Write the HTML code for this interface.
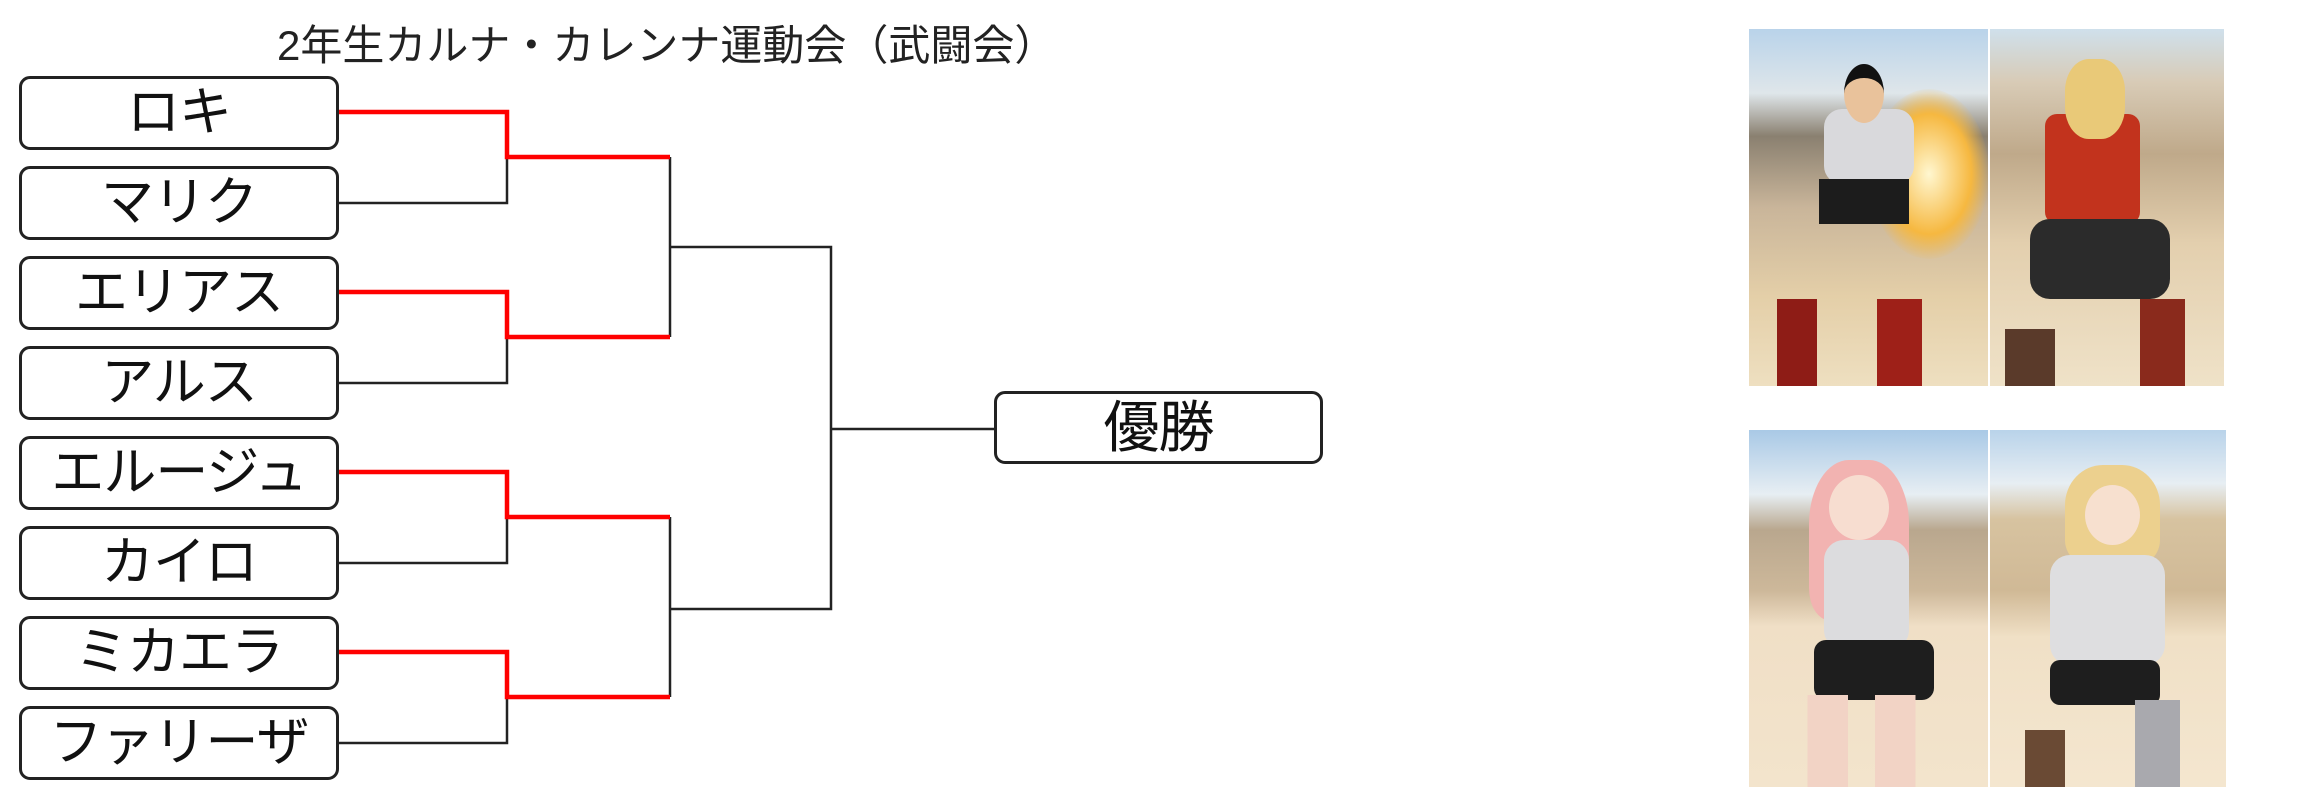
<!DOCTYPE html>
<html><head><meta charset="utf-8"><style>
html,body{margin:0;padding:0;background:#fff;width:2303px;height:812px;overflow:hidden;position:relative;font-family:"Liberation Sans","Noto Sans CJK JP",sans-serif;}
.b{position:absolute;left:19px;width:314px;height:68px;border:3px solid #222;border-radius:11px;background:#fff;font-size:53px;line-height:68px;text-align:center;color:#111;letter-spacing:-1px;white-space:nowrap;}
.t{position:absolute;left:277px;top:20px;font-size:42px;line-height:52px;color:#222;white-space:nowrap;}
.img{position:absolute;overflow:hidden;}
</style></head><body>
<div class="t">2年生カルナ・カレンナ運動会（武闘会）</div>
<svg width="2303" height="812" style="position:absolute;left:0;top:0">
<g fill="none" stroke="#222" stroke-width="2.5">
<path d="M338 203H507V157"/><path d="M338 383H507V337"/><path d="M338 563H507V517"/><path d="M338 743H507V697"/>
<path d="M670 157V337"/><path d="M670 517V697"/>
<path d="M670 247H831V609H670"/><path d="M831 429H994"/>
</g>
<g fill="none" stroke="#f00" stroke-width="4.5">
<path d="M338 112H507V157H670"/><path d="M338 292H507V337H670"/><path d="M338 472H507V517H670"/><path d="M338 652H507V697H670"/>
</g>
</svg>
<div class="b" style="top:76px">ロキ</div>
<div class="b" style="top:166px">マリク</div>
<div class="b" style="top:256px">エリアス</div>
<div class="b" style="top:346px">アルス</div>
<div class="b" style="top:436px">エルージュ</div>
<div class="b" style="top:526px">カイロ</div>
<div class="b" style="top:616px">ミカエラ</div>
<div class="b" style="top:706px">ファリーザ</div>
<div class="b" style="top:391px;left:994px;width:323px;height:67px;line-height:67px;font-size:56px">優勝</div>

<div class="img" style="left:1749px;top:29px;width:239px;height:357px;background:linear-gradient(#b9d3ea 0%,#dfe6ea 18%,#8a8070 30%,#c9b59a 50%,#e4cfa8 75%,#eedfc0 100%)">
<div style="position:absolute;left:120px;top:60px;width:120px;height:170px;border-radius:50%;background:radial-gradient(#fff7d0,#f6b840 50%,rgba(240,150,40,0) 72%)"></div>
<div style="position:absolute;left:75px;top:80px;width:90px;height:75px;background:#d9d9dc;border-radius:18px"></div>
<div style="position:absolute;left:70px;top:150px;width:90px;height:45px;background:#1c1c1c"></div>
<div style="position:absolute;left:95px;top:35px;width:40px;height:45px;background:#e9c29b;border-radius:50%;border-top:14px solid #111"></div>
<div style="position:absolute;left:28px;top:270px;width:40px;height:87px;background:#8e1c16"></div>
<div style="position:absolute;left:128px;top:270px;width:45px;height:87px;background:#9e2018"></div>
</div>
<div class="img" style="left:1990px;top:29px;width:234px;height:357px;background:linear-gradient(#cfe0ec 0%,#d8cbb6 15%,#bfa98a 35%,#e3cfae 60%,#efe2c8 100%)">
<div style="position:absolute;left:55px;top:85px;width:95px;height:110px;background:#c2331d;border-radius:12px"></div>
<div style="position:absolute;left:75px;top:30px;width:60px;height:80px;background:#e9c978;border-radius:40%"></div>
<div style="position:absolute;left:40px;top:190px;width:140px;height:80px;background:#2b2b2b;border-radius:20px"></div>
<div style="position:absolute;left:150px;top:270px;width:45px;height:87px;background:#8a2a1c"></div>
<div style="position:absolute;left:15px;top:300px;width:50px;height:57px;background:#5a3a2a"></div>
</div>
<div class="img" style="left:1749px;top:430px;width:239px;height:357px;background:linear-gradient(#a9c9e6 0%,#e7eef3 18%,#b9a78e 28%,#cdb89a 45%,#f0dfc6 55%,#f3e4cc 100%)">
<div style="position:absolute;left:60px;top:30px;width:100px;height:160px;background:#f2b3b1;border-radius:40% 40% 20% 20%"></div>
<div style="position:absolute;left:80px;top:45px;width:60px;height:65px;background:#f7ddd0;border-radius:50%"></div>
<div style="position:absolute;left:75px;top:110px;width:85px;height:110px;background:#dcdcde;border-radius:20px"></div>
<div style="position:absolute;left:65px;top:210px;width:120px;height:60px;background:#1e1e1e;border-radius:12px"></div>
<div style="position:absolute;left:45px;top:265px;width:135px;height:92px;background:linear-gradient(90deg,transparent 10%,#f2d3c5 10%,#f2d3c5 40%,transparent 40%,transparent 60%,#f2d3c5 60%,#f2d3c5 90%,transparent 90%)"></div>
</div>
<div class="img" style="left:1990px;top:430px;width:236px;height:357px;background:linear-gradient(#b9d3ea 0%,#e7eef3 15%,#d7c3a0 25%,#d0b996 45%,#f0e0c6 58%,#f4e6cf 100%)">
<div style="position:absolute;left:75px;top:35px;width:95px;height:100px;background:#ecd08e;border-radius:40% 40% 25% 25%"></div>
<div style="position:absolute;left:95px;top:55px;width:55px;height:60px;background:#f7e0cf;border-radius:50%"></div>
<div style="position:absolute;left:60px;top:125px;width:115px;height:110px;background:#dedee0;border-radius:20px"></div>
<div style="position:absolute;left:60px;top:230px;width:110px;height:45px;background:#1e1e1e;border-radius:10px"></div>
<div style="position:absolute;left:145px;top:270px;width:45px;height:87px;background:#a9a9ae"></div>
<div style="position:absolute;left:35px;top:300px;width:40px;height:57px;background:#6a4a34"></div>
</div>
</body></html>
